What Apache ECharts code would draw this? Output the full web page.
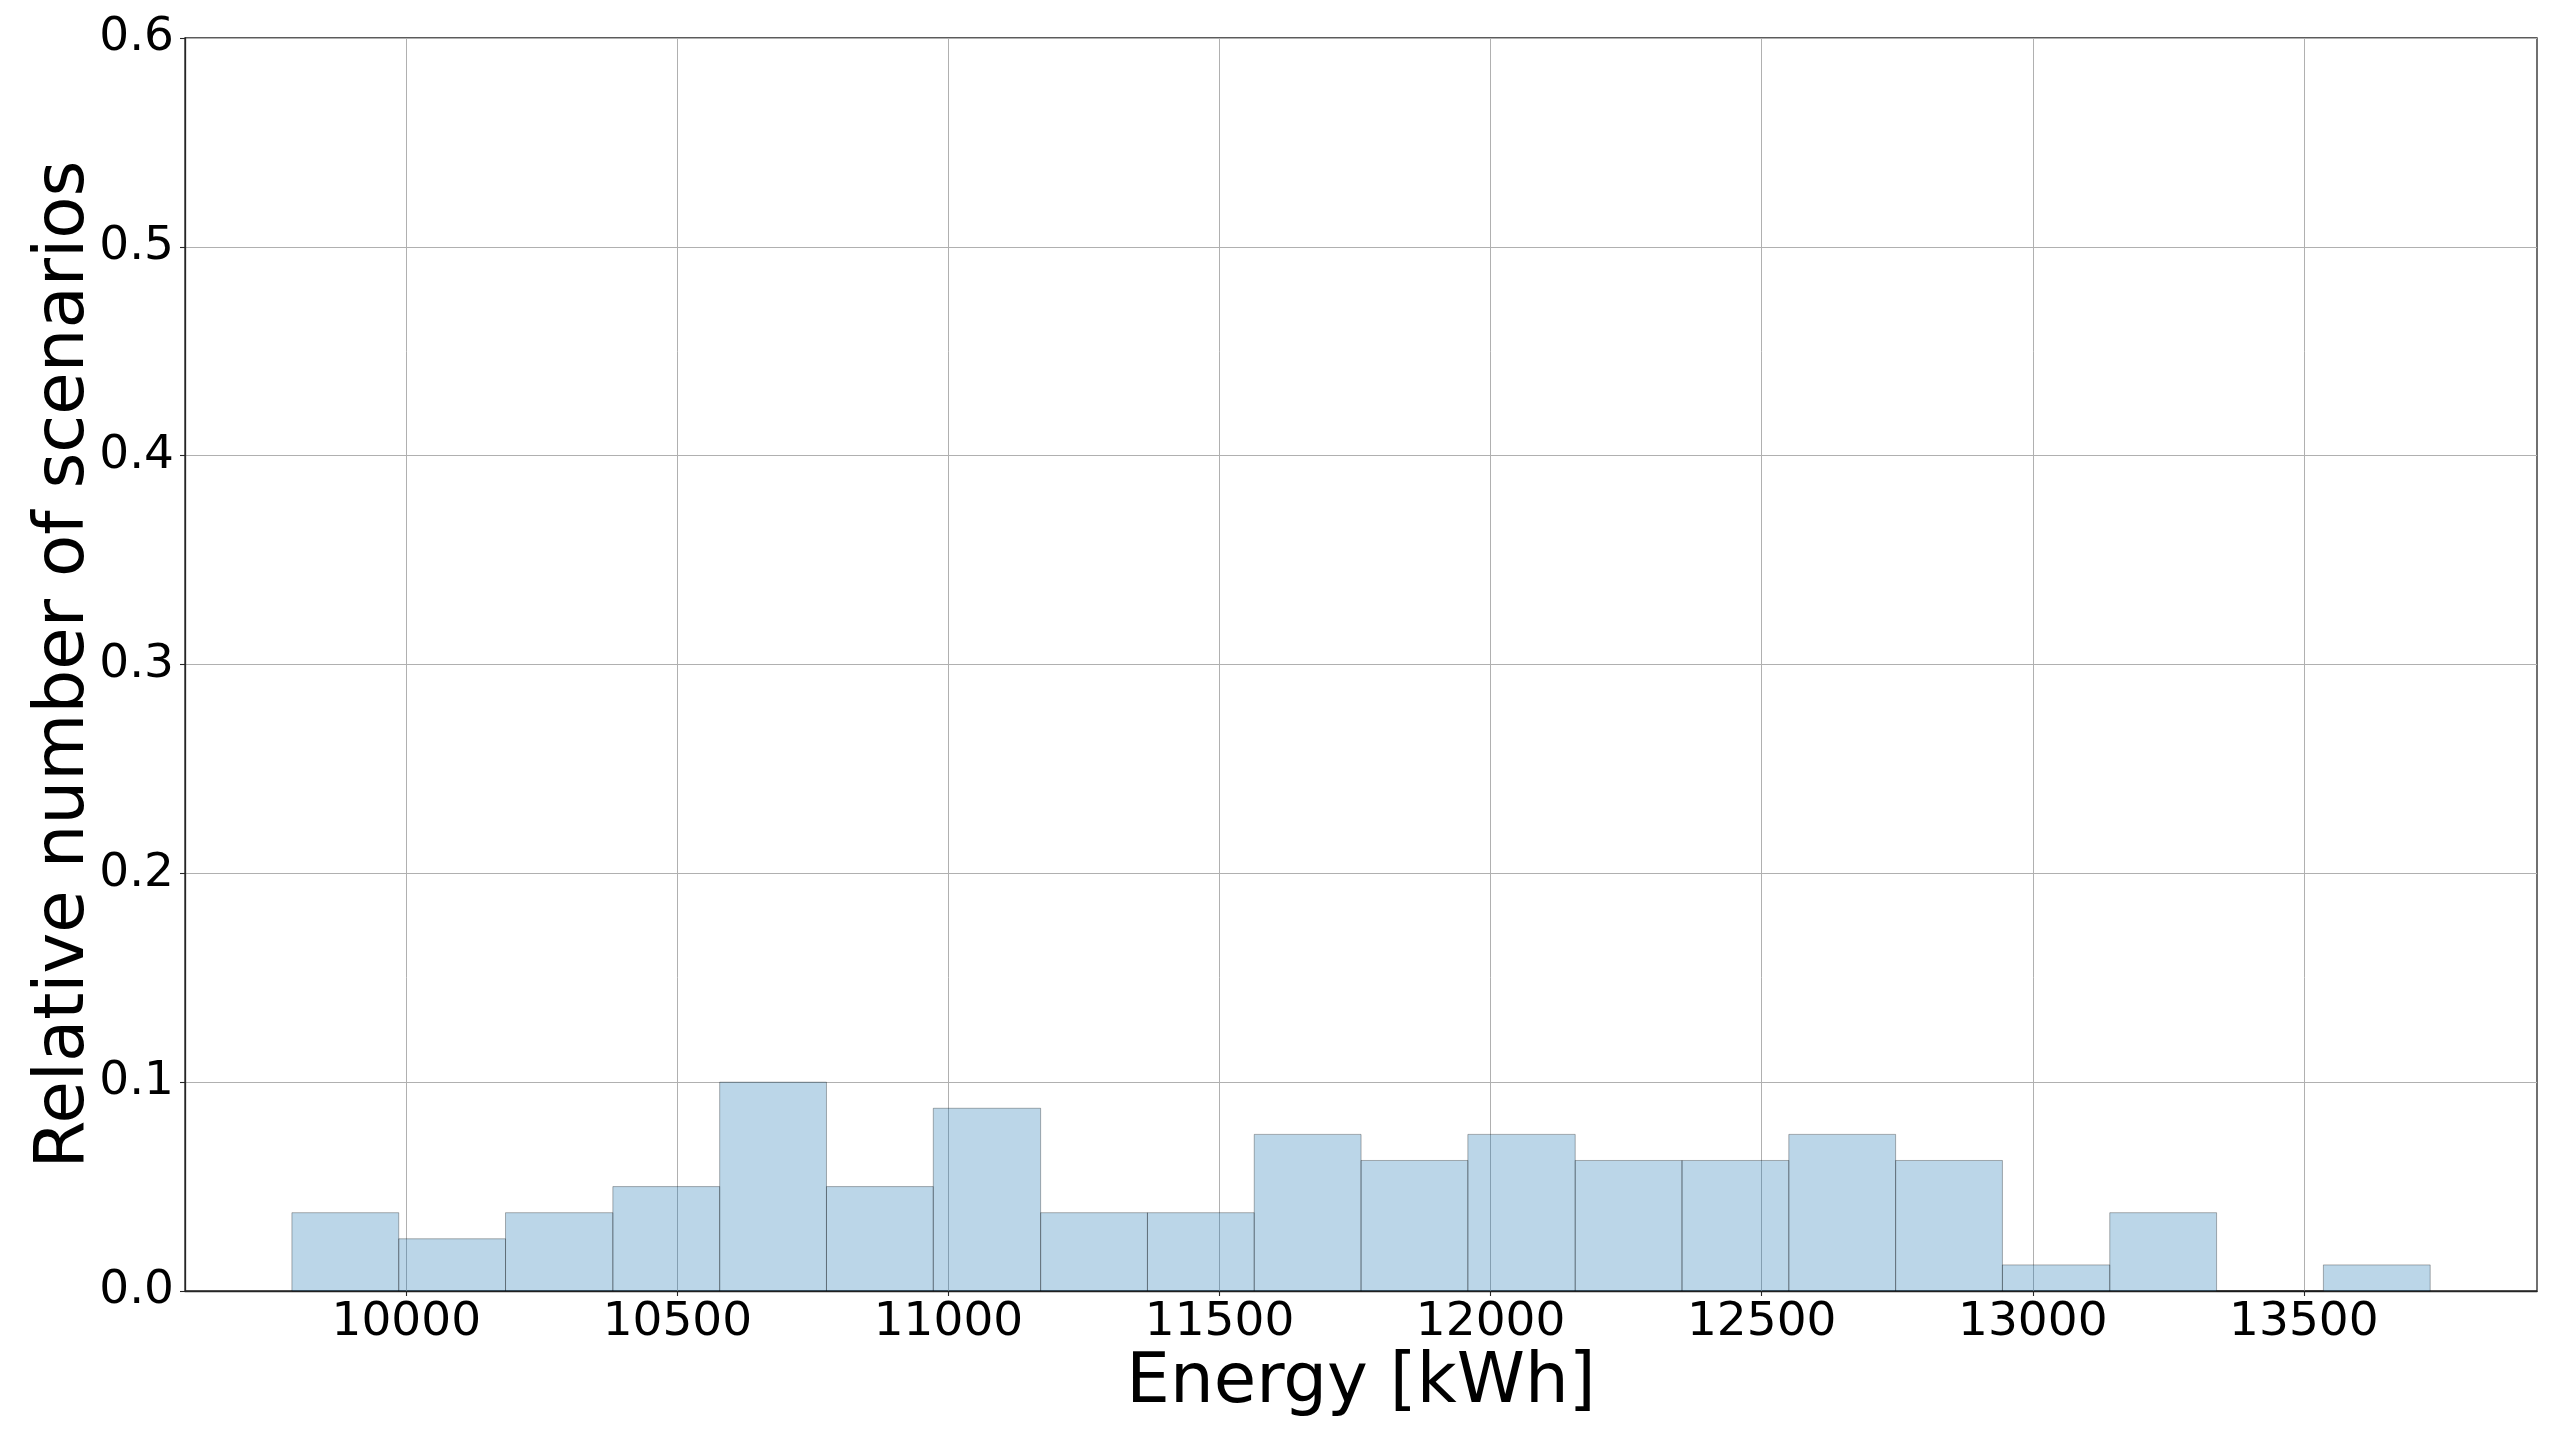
<!DOCTYPE html>
<html>
<head>
<meta charset="utf-8">
<script src="https://cdn.jsdelivr.net/npm/echarts@6/dist/echarts.min.js"></script>
<style>
html,body{margin:0;padding:0;background:#fff;}
#chart{width:2561px;height:1431px;}
</style>
</head>
<body>
<div id="chart"></div>
<script>
// Histogram bin edges (kWh)
const binEdges = [9789, 9986, 10183, 10381, 10578, 10775, 10972, 11170, 11367, 11564, 11761,
                  11958, 12156, 12353, 12550, 12747, 12944, 13142, 13339, 13536, 13733];
// Relative number of scenarios per bin
const relFreq = [0.0375, 0.025, 0.0375, 0.05, 0.1, 0.05, 0.0875, 0.0375, 0.0375, 0.075,
                 0.0625, 0.075, 0.0625, 0.0625, 0.075, 0.0625, 0.0125, 0.0375, 0, 0.0125];
const xTicks = [10000, 10500, 11000, 11500, 12000, 12500, 13000, 13500];
const yTicks = [0, 0.1, 0.2, 0.3, 0.4, 0.5, 0.6];
const xMin = 9591.8, xMax = 13930;

const data = relFreq.map((v, i) => [binEdges[i], binEdges[i + 1], v]);

const chart = echarts.init(document.getElementById('chart'), null, {renderer: 'canvas'});
const font = 'DejaVu Sans';
chart.setOption({
  animation: false,
  backgroundColor: '#ffffff',
  grid: {left: 185, right: 24, top: 38, bottom: 140, show: true, borderColor: '#262626', borderWidth: 1.3, backgroundColor: 'transparent'},
  xAxis: {
    type: 'value', min: xMin, max: xMax,
    name: 'Energy [kWh]', nameLocation: 'middle', nameGap: 59, nameMoveOverlap: false,
    nameTextStyle: {fontFamily: font, fontSize: 69, color: '#000', verticalAlign: 'top'},
    axisLine: {show: true, onZero: false, lineStyle: {color: '#262626', width: 1.3}},
    axisTick: {show: true, length: 5, lineStyle: {color: '#262626', width: 1.1}, customValues: xTicks},
    axisLabel: {fontFamily: font, fontSize: 47, color: '#000', margin: 8, customValues: xTicks,
                formatter: v => String(v)},
    splitLine: {show: true, lineStyle: {color: '#b0b0b0', width: 1}}
  },
  yAxis: {
    type: 'value', min: yTicks[0], max: yTicks[yTicks.length - 1], interval: 0.1,
    name: 'Relative number of scenarios', nameLocation: 'middle', nameGap: 85, nameRotate: 90,
    nameMoveOverlap: false,
    nameTextStyle: {fontFamily: font, fontSize: 69, color: '#000'},
    axisLine: {show: true, lineStyle: {color: '#262626', width: 1.3}},
    axisTick: {show: true, length: 5, lineStyle: {color: '#262626', width: 1.1}},
    axisLabel: {fontFamily: font, fontSize: 47, color: '#000', margin: 11, formatter: v => v.toFixed(1)},
    splitLine: {show: true, lineStyle: {color: '#b0b0b0', width: 1}}
  },
  series: [{
    type: 'custom',
    data: data,
    encode: {x: [0, 1], y: 2},
    renderItem: function (params, api) {
      const p0 = api.coord([api.value(0), 0]);
      const p1 = api.coord([api.value(1), api.value(2)]);
      return {
        type: 'rect',
        shape: {x: p0[0], y: p1[1], width: p1[0] - p0[0], height: p0[1] - p1[1]},
        style: {fill: 'rgba(31,119,180,0.3)', stroke: 'rgba(0,0,0,0.3)', lineWidth: 1}
      };
    }
  }]
});
</script>
</body>
</html>
